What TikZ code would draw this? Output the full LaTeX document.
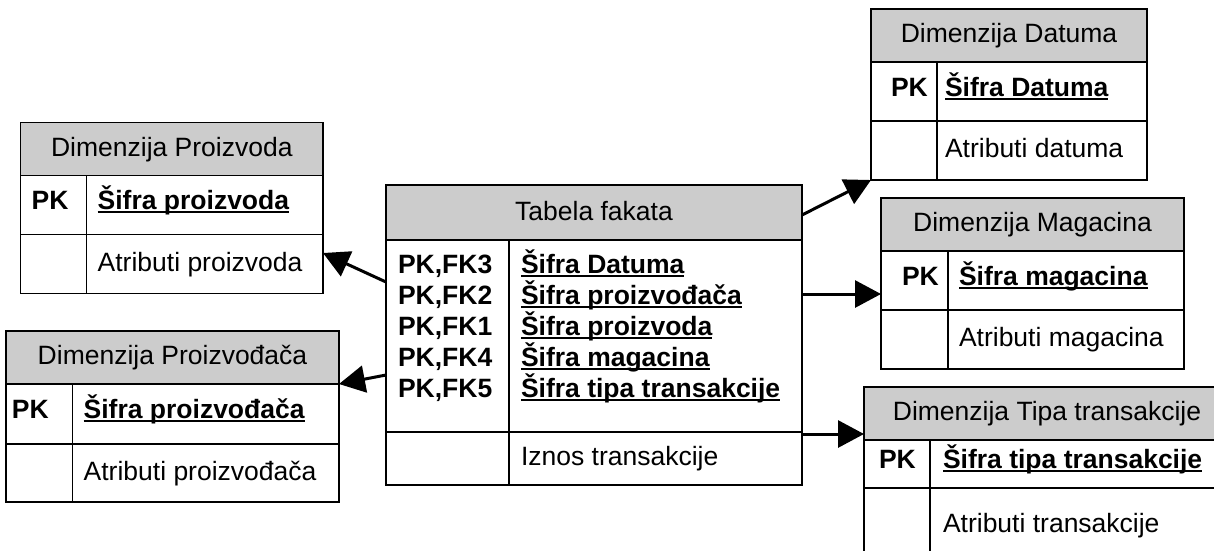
\documentclass[tikz,border=0pt]{standalone}
\usepackage{fontspec}
\setmainfont{Liberation Sans}
\usetikzlibrary{arrows.meta,calc}

\definecolor{hdrgray}{gray}{0.8}

% bold key text with a rule just under the baseline
\newsavebox\keybox
\newcommand\keytext[1]{\sbox\keybox{\bfseries #1}\rlap{\rule[-3.5pt]{\wd\keybox}{2pt}}\usebox\keybox}

\tikzset{
  frame/.style={line width=1.5pt},
  txt/.style={inner sep=0pt, outer sep=0pt, font=\fontsize{26.5}{31}\selectfont},
  link/.style={line width=3pt, -{Triangle[length=26pt,width=27pt]}},
}

% options of a dimension table
\pgfkeys{/dt/.is family, /dt/.cd,
  pk/.store in=\dtpk, kx/.store in=\dtkx,
  h1/.store in=\dthone, h2/.store in=\dthtwo}

% \dimtab[options]{name}{x,y of top left}{width}{key column width}{title}{key}{attribute}
\newcommand\dimtab[8][]{%
  \pgfkeys{/dt/.cd, pk=12, kx=11, h1=59, h2=59, #1}%
  \begin{scope}[shift={(#3)}]
    \fill[hdrgray] (0,0) rectangle (#4,53);
    \draw[frame] (0,53) -- (#4,53);
    \draw[frame] (0,53+\dthone) -- (#4,53+\dthone);
    \draw[frame] (#5,53) -- (#5,53+\dthone+\dthtwo);
    \node[frame, draw, anchor=north west, inner sep=0pt, outer sep=0pt,
          minimum width=#4pt, minimum height={(53+\dthone+\dthtwo)*1pt}] (#2) at (0,0) {};
    \node[txt, anchor=base] (#2-title) at (#4/2, 33.5) {#6};
    \node[txt, anchor=base west] (#2-pk) at (\dtpk, 53+\dthone/2+4.5) {\bfseries PK};
    \node[txt, anchor=base west] (#2-key) at (#5+\dtkx, 53+\dthone/2+4.5) {\keytext{#7}};
    \node[txt, anchor=base west] (#2-attr) at (#5+\dtkx, 53+\dthone+\dthtwo/2+7) {#8};
  \end{scope}}

\begin{document}
\begin{tikzpicture}[x=1pt, y=-1pt]
  \useasboundingbox (0,0) rectangle (1214,550);
  \clip (0,0) rectangle (1214,550);

  % dimension tables
  \dimtab[pk=11]{prz}{20.7,122.7}{302.3}{66}{Dimenzija Proizvoda}{Šifra proizvoda}{Atributi proizvoda}
  \dimtab[pk=6, h1=60, h2=58]{prv}{6,331}{333}{66.7}{Dimenzija Proizvođača}{Šifra proizvođača}{Atributi proizvođača}
  \dimtab[pk=20, kx=8]{dat}{871,9}{276}{66}{Dimenzija Datuma}{Šifra Datuma}{Atributi datuma}
  \dimtab[pk=21]{mag}{881,198}{303}{67}{Dimenzija Magacina}{Šifra magacina}{Atributi magacina}
  \dimtab[pk=15, kx=13, h1=48, h2=75]{tip}{864,387}{366}{66}{Dimenzija Tipa transakcije}{Šifra tipa transakcije}{Atributi transakcije}

  % fact table
  \fill[hdrgray] (386,185) rectangle (802,240);
  \draw[frame] (386,240) -- (802,240);
  \draw[frame] (386,432) -- (802,432);
  \draw[frame] (509,240) -- (509,485);
  \node[frame, draw, anchor=north west, inner sep=0pt, outer sep=0pt,
        minimum width=416pt, minimum height=300pt] (fact) at (386,185) {};
  \node[txt, anchor=base] (fact-title) at (594,220) {Tabela fakata};
  \foreach \fk/\key [count=\i from 0] in {3/Šifra Datuma, 2/Šifra proizvođača,
      1/Šifra proizvoda, 4/Šifra magacina, 5/Šifra tipa transakcije} {
    \node[txt, anchor=base west] (fk\fk) at (398, 273+31*\i) {\bfseries PK,FK\fk};
    \node[txt, anchor=base west] (fkey\fk) at (521, 273+31*\i) {\keytext{\key}};
  }
  \node[txt, anchor=base west] (fact-attr) at (521,465) {Iznos transakcije};

  % references from the fact table to the dimensions
  \draw[link] ($(fact.north east)+(0,30)$) -- (dat.south west);
  \coordinate (fm) at ($(fact.north east)+(0,109)$);
  \draw[link] (fm) -- (fm -| mag.west);
  \coordinate (ft) at ($(fact.north east)+(0,249)$);
  \draw[link] (ft) -- (ft -| tip.west);
  \draw[link] ($(fact.north west)+(0,97)$) -- ($(prz.north east)+(0,130.3)$);
  \draw[link] ($(fact.north west)+(0,190)$) -- ($(prv.north east)+(0,53)$);
\end{tikzpicture}
\end{document}
